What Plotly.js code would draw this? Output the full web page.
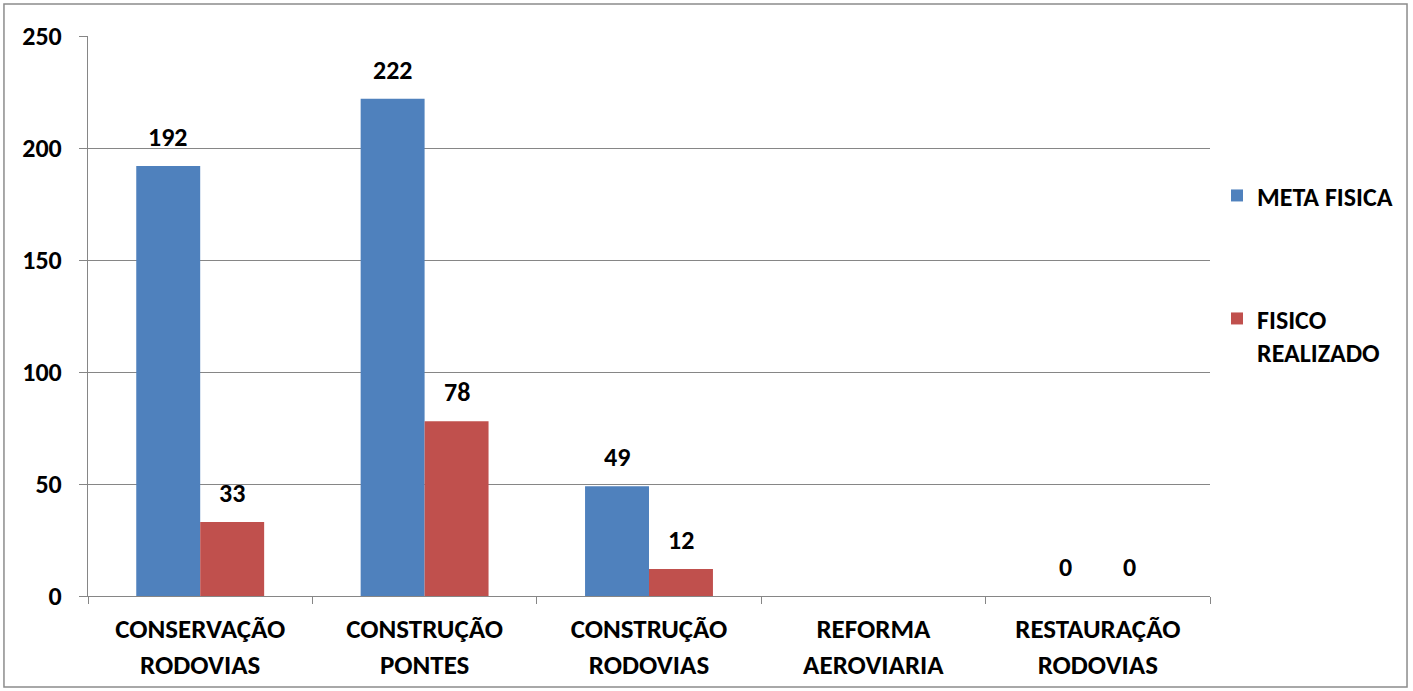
<!DOCTYPE html>
<html>
<head>
<meta charset="utf-8">
<script src="https://cdn.plot.ly/plotly-3.0.1.min.js"></script>
<style>html,body{margin:0;padding:0;background:#fff;}#chart{width:1413px;height:691px;}</style>
</head>
<body>
<div id="chart"></div>
<script>
const categories = ["CONSERVAÇÃO<br>RODOVIAS", "CONSTRUÇÃO<br>PONTES", "CONSTRUÇÃO<br>RODOVIAS", "REFORMA<br>AEROVIARIA", "RESTAURAÇÃO<br>RODOVIAS"];
const metaFisica = [192, 222, 49, null, 0];
const fisicoRealizado = [33, 78, 12, null, 0];
const seriesNames = ["META FISICA", "FISICO<br>REALIZADO"];
const colors = ["#4F81BD", "#C0504D"];

const FONT = "Carlito, Lato, 'Liberation Sans', sans-serif";
const FS = 26;
const barHalf = 32;

const traces = [
  {type: "bar", x: categories, y: metaFisica, name: seriesNames[0], marker: {color: colors[0]}, legend: "legend", showlegend: true, hoverinfo: "y"},
  {type: "bar", x: categories, y: fisicoRealizado, name: seriesNames[1], marker: {color: colors[1]}, legend: "legend2", showlegend: true, hoverinfo: "y"}
];

const annotations = [];
[metaFisica, fisicoRealizado].forEach((arr, si) => {
  arr.forEach((v, i) => {
    if (v === null) return;
    annotations.push({
      x: categories[i], y: v, xref: "x", yref: "y",
      text: "<b>" + v + "</b>", showarrow: false,
      xshift: si === 0 ? -barHalf : barHalf, yshift: 29,
      yanchor: "middle", xanchor: "center",
      font: {family: FONT, size: FS, color: "#000"}
    });
  });
});

const legendFont = {family: FONT, size: 26, color: "#000", weight: "bold"};

const layout = {
  width: 1413, height: 691,
  margin: {l: 88, r: 203, t: 36, b: 95},
  paper_bgcolor: "#fff", plot_bgcolor: "#fff",
  barmode: "group", bargap: 0.43, bargroupgap: 0,
  showlegend: true,
  font: {family: FONT, size: FS, color: "#000", weight: "bold"},
  xaxis: {
    type: "category", showgrid: false, zeroline: false,
    showline: true, linecolor: "#868686", linewidth: 1,
    ticks: "outside", tickson: "boundaries", ticklen: 7, tickcolor: "#868686",
    ticklabelstandoff: 9,
    tickfont: {family: FONT, size: 27, color: "#000", weight: "bold"},
    fixedrange: true, automargin: false
  },
  yaxis: {
    range: [0, 250], dtick: 50, tick0: 0,
    showgrid: true, gridcolor: "#868686", gridwidth: 1,
    zeroline: false, showline: true, linecolor: "#868686", linewidth: 1,
    ticks: "outside", ticklen: 8, tickcolor: "#868686", ticklabelstandoff: 12,
    tickfont: {family: FONT, size: FS, color: "#000", weight: "bold"},
    fixedrange: true, automargin: false
  },
  legend: {
    xref: "container", yref: "container",
    x: 0.8613, xanchor: "left", y: 0.717, yanchor: "middle",
    font: legendFont, bgcolor: "rgba(0,0,0,0)", visible: true
  },
  legend2: {
    xref: "container", yref: "container",
    x: 0.8613, xanchor: "left", y: 0.573, yanchor: "top",
    font: legendFont, bgcolor: "rgba(0,0,0,0)", valign: "top", visible: true
  },
  annotations: annotations,
  shapes: [{
    type: "rect", xref: "paper", yref: "paper",
    x0: -0.0749, x1: 1.1756, y0: -0.1625, y1: 1.057,
    line: {color: "#8c8c8c", width: 1.5}, fillcolor: "rgba(0,0,0,0)"
  }]
};

Plotly.newPlot("chart", traces, layout, {displayModeBar: false, staticPlot: true});
</script>
</body>
</html>
